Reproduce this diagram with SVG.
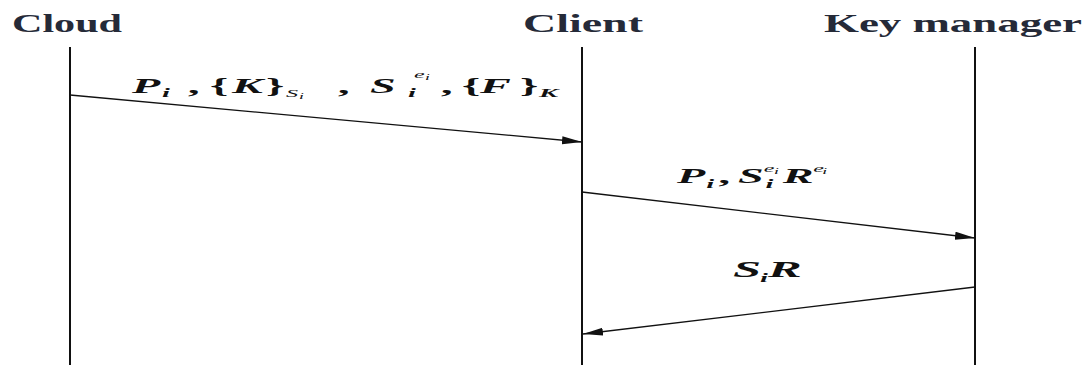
<svg xmlns="http://www.w3.org/2000/svg" width="1088" height="365" viewBox="0 0 1088 365">
<defs>
<style>
.hdr{font-family:"Liberation Serif",serif;font-weight:bold;font-size:25px;fill:#252a38}
.m{font-family:"Liberation Serif",serif;font-weight:bold;font-style:italic;font-size:21px;fill:#111}
.up{font-style:normal}
.sb{font-size:13px}
.ss{font-size:8px;font-weight:normal}
.sn{font-size:11px;font-weight:normal}
.big{font-size:23px}
.life{stroke:#111;stroke-width:2;fill:none}
.msg{stroke:#111;stroke-width:1.3;fill:none}
</style>
<marker id="ah" markerUnits="userSpaceOnUse" markerWidth="22" markerHeight="10" refX="20" refY="4" orient="auto">
<path d="M0,0 L20,4 L0,8 z" fill="#111"/>
</marker>
</defs>
<rect width="1088" height="365" fill="#fff"/>
<g id="cloud">
<text class="hdr" x="12" y="32" textLength="110" lengthAdjust="spacingAndGlyphs">Cloud</text>
<line class="life" x1="70" y1="47" x2="70" y2="365"/>
</g>
<g id="client">
<text class="hdr" x="523" y="32" textLength="120" lengthAdjust="spacingAndGlyphs">Client</text>
<line class="life" x1="582" y1="47" x2="582" y2="365"/>
</g>
<g id="keymanager">
<text class="hdr" x="824" y="32" textLength="258" lengthAdjust="spacingAndGlyphs">Key manager</text>
<line class="life" x1="975" y1="47" x2="975" y2="365"/>
</g>
<g id="connectors">
<line class="msg" x1="70" y1="95" x2="582" y2="142" marker-end="url(#ah)"/>
<line class="msg" x1="582" y1="192" x2="975" y2="238" marker-end="url(#ah)"/>
<line class="msg" x1="975" y1="287" x2="583" y2="334" marker-end="url(#ah)"/>
</g>
<g id="labels">
<text class="m" transform="scale(2.2,1)"><tspan x="60" y="93">P</tspan><tspan class="sb" x="73.6" y="97">i</tspan><tspan class="up" x="85.5" y="93">,</tspan><tspan class="up" x="95.5" y="93">{</tspan><tspan x="105.5" y="93">K</tspan><tspan class="up" x="120.9" y="93">}</tspan><tspan class="sn" x="130" y="97">S</tspan><tspan class="ss" x="135.9" y="99">i</tspan><tspan class="up" x="153.6" y="93">,</tspan><tspan x="168.2" y="93">S</tspan><tspan class="sn" x="188.2" y="78">e</tspan><tspan class="ss" x="193.2" y="80">i</tspan><tspan class="sb" x="185.5" y="97">i</tspan><tspan class="up" x="200.5" y="93">,</tspan><tspan class="up" x="210" y="93">{</tspan><tspan x="218.2" y="93">F</tspan><tspan class="up" x="236.4" y="93">}</tspan><tspan class="sb" x="245" y="97">K</tspan></text>
<text class="m" transform="scale(2.2,1)"><tspan x="307.7" y="183">P</tspan><tspan class="sb" x="321" y="188">i</tspan><tspan class="up" x="326.6" y="183">,</tspan><tspan x="335.5" y="183">S</tspan><tspan class="sn" x="347.2" y="172">e</tspan><tspan class="ss" x="351.8" y="174">i</tspan><tspan class="sb" x="348" y="188">i</tspan><tspan x="355.8" y="183">R</tspan><tspan class="sn" x="369.7" y="172">e</tspan><tspan class="ss" x="373.8" y="174">i</tspan></text>
<text class="m" transform="scale(2.2,1)"><tspan class="big" x="333.2" y="277">S</tspan><tspan class="sb" x="345.5" y="282">i</tspan><tspan class="big" x="349.1" y="277">R</tspan></text>
</g>
</svg>
